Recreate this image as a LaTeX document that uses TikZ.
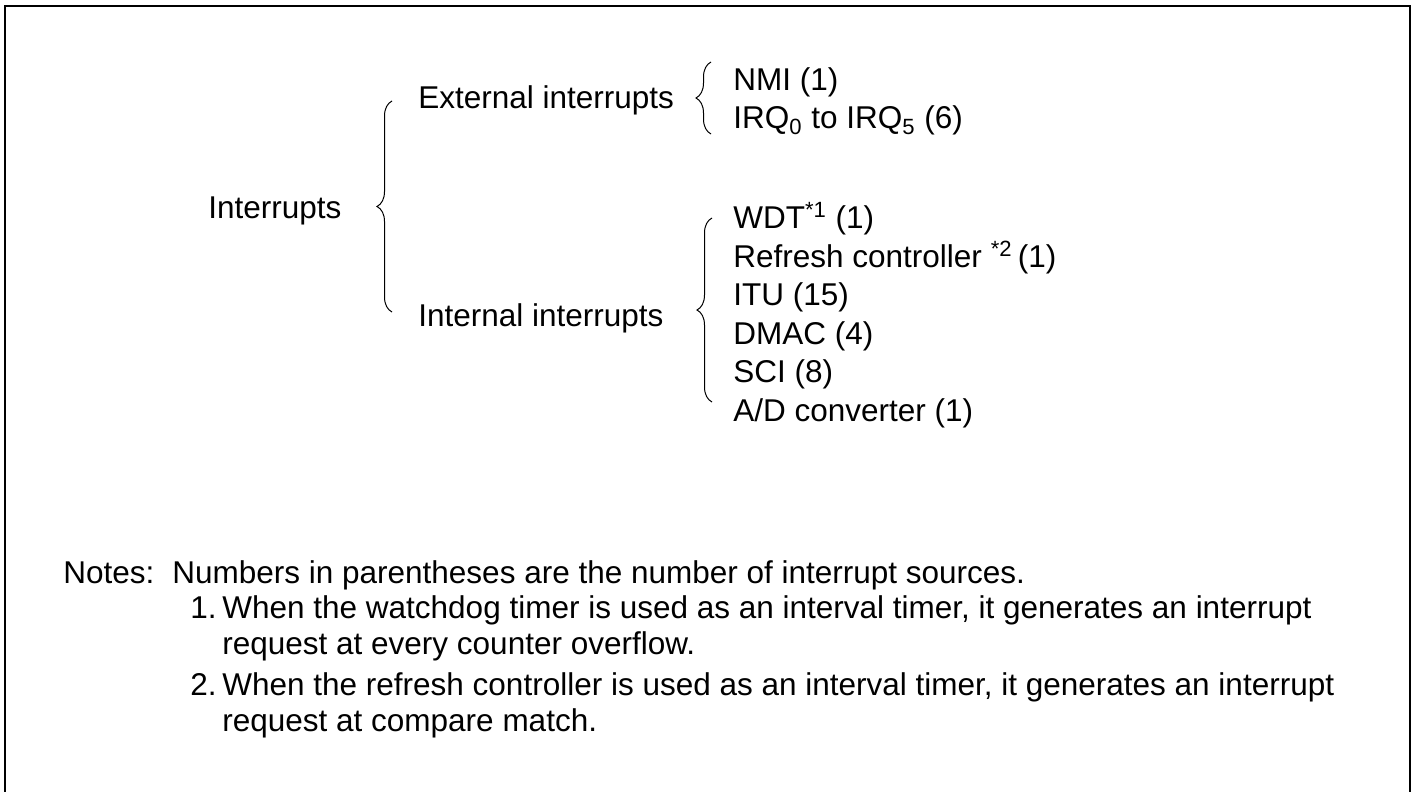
\documentclass[tikz,border=0pt]{standalone}
\usepackage{fontspec}
\setmainfont{Liberation Sans}
\usetikzlibrary{calc,decorations.pathreplacing}

\tikzset{
  txt/.style={anchor=base west, inner sep=0pt, font=\fontsize{15.75pt}{19pt}\selectfont},
  curly/.style={decorate, decoration={brace, amplitude=7.5pt}, line width=0.5pt},
}

\begin{document}
\begin{tikzpicture}[x=0.5pt, y=-0.5pt]
    \useasboundingbox (0,0) rectangle (1414,792);
    % frame (open at the bottom)
    \draw[line width=1pt] (5,792) -- (5,6) -- (1410,6) -- (1410,792);

    % root
    \node[txt] (intr) at (208,218) {Interrupts};

    % two groups
    \node[txt] (ext) at (418,109) {External interrupts};
    \node[txt] (inn) at (418,326) {Internal interrupts};

    % external sources
    \node[txt] (nmi) at (733,91) {NMI (1)};
    \node[txt] (irq) at (733,129) {IRQ\textsubscript{0} to IRQ\textsubscript{5} (6)};

    % internal sources
    \node[txt] (wdt)  at (733,228) {WDT\textsuperscript{*1} (1)};
    \node[txt] (rfsh) at (733,267) {Refresh controller \textsuperscript{*2}\,(1)};
    \node[txt] (itu)  at (733,305) {ITU (15)};
    \node[txt] (dmac) at (733,344) {DMAC (4)};
    \node[txt] (sci)  at (733,382) {SCI (8)};
    \node[txt] (adc)  at (733,421) {A/D converter (1)};

    % braces
    \draw[curly] ($(inn.base west)+(-26,-14)$) -- ($(ext.base west)+(-26,-8)$);
    \draw[curly] ($(irq.base west)+(-22,5)$) -- ($(nmi.base west)+(-22,-29)$);
    \draw[curly] ($(adc.base west)+(-21,-19)$) -- ($(wdt.base west)+(-21,-10)$);

    % notes
    \node[txt] (notes) at (63,583) {Notes:};
    \node[txt] (n0)  at (172,583) {Numbers in parentheses are the number of interrupt sources.};
    \node[txt] (k1)  at (190,618) {1.};
    \node[txt] (n1)  at (222,618) {When the watchdog timer is used as an interval timer, it generates an interrupt};
    \node[txt] (n1b) at (222,654) {request at every counter overflow.};
    \node[txt] (k2)  at (190,695) {2.};
    \node[txt] (n2)  at (222,695) {When the refresh controller is used as an interval timer, it generates an interrupt};
    \node[txt] (n2b) at (222,731) {request at compare match.};
\end{tikzpicture}
\end{document}
